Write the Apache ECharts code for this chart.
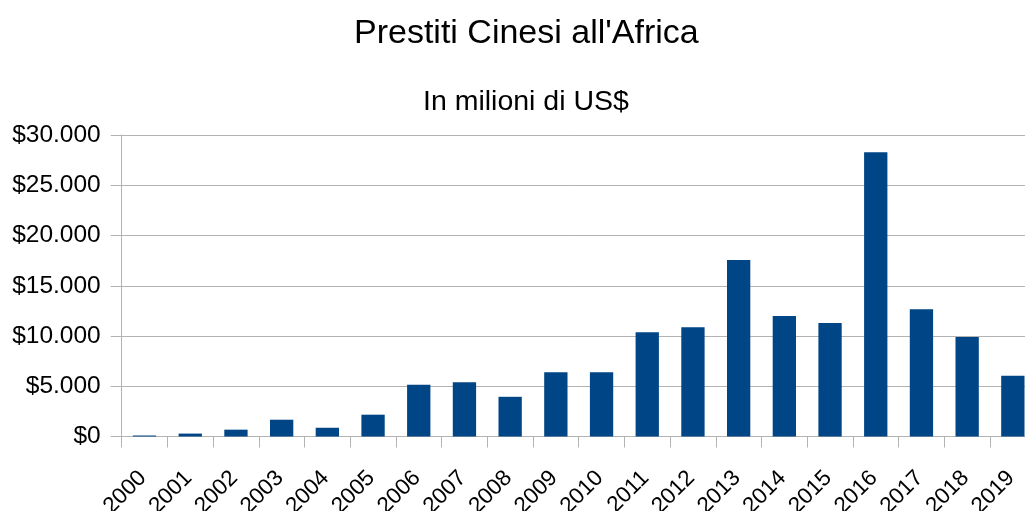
<!DOCTYPE html>
<html>
<head>
<meta charset="utf-8">
<script src="https://cdn.jsdelivr.net/npm/echarts@6/dist/echarts.min.js"></script>
<style>
  html, body { margin: 0; padding: 0; background: #fff; overflow: hidden; }
  #chart { width: 1025px; height: 511px; }
</style>
</head>
<body>
<div id="chart"></div>
<script>
// Anni
const years = ['2000','2001','2002','2003','2004','2005','2006','2007','2008','2009',
               '2010','2011','2012','2013','2014','2015','2016','2017','2018','2019'];
// Prestiti in milioni di US$
const loans = [100, 290, 680, 1670, 870, 2170, 5140, 5410, 3950, 6400,
               6400, 10380, 10870, 17560, 12000, 11300, 28280, 12660, 9910, 6040];

const fmt = v => '$' + String(v).replace(/\B(?=(\d{3})+(?!\d))/g, '.');

const chart = echarts.init(document.getElementById('chart'));
chart.setOption({
  backgroundColor: '#ffffff',
  animation: false,
  title: [
    { text: "Prestiti Cinesi all'Africa", left: 349, top: 12,
      textStyle: { fontFamily: 'Liberation Sans', fontSize: 34, fontWeight: 'normal', color: '#000' } },
    { text: 'In milioni di US$', left: 418, top: 83,
      textStyle: { fontFamily: 'Liberation Sans', fontSize: 28.5, fontWeight: 'normal', color: '#000' } }
  ],
  // the plot runs a little past the right edge of the canvas
  grid: { left: 121.7, width: 914, top: 135, bottom: 74.5, outerBoundsMode: 'none', containLabel: false },
  xAxis: {
    type: 'category',
    data: years,
    axisLine: { lineStyle: { color: '#b3b3b3', width: 1 } },
    axisTick: { show: true, length: 11, lineStyle: { color: '#b3b3b3' } },
    axisLabel: { rotate: 45, margin: 20, interval: 0, align: 'right', verticalAlign: 'top',
      padding: [0, 14, 0, 0],
      fontFamily: 'Liberation Sans', fontSize: 22.5, color: '#000' }
  },
  yAxis: {
    type: 'value', min: 0, max: 30000, interval: 5000,
    axisLine: { show: true, lineStyle: { color: '#b3b3b3' } },
    axisTick: { show: true, length: 11, lineStyle: { color: '#b3b3b3' } },
    splitLine: { lineStyle: { color: '#b3b3b3', width: 1 } },
    axisLabel: { formatter: fmt, margin: 21,
      fontFamily: 'Liberation Sans', fontSize: 24.5, color: '#000' }
  },
  series: [{
    type: 'bar',
    data: loans,
    barWidth: '51%',
    itemStyle: { color: '#004586' }
  }]
});
</script>
</body>
</html>
